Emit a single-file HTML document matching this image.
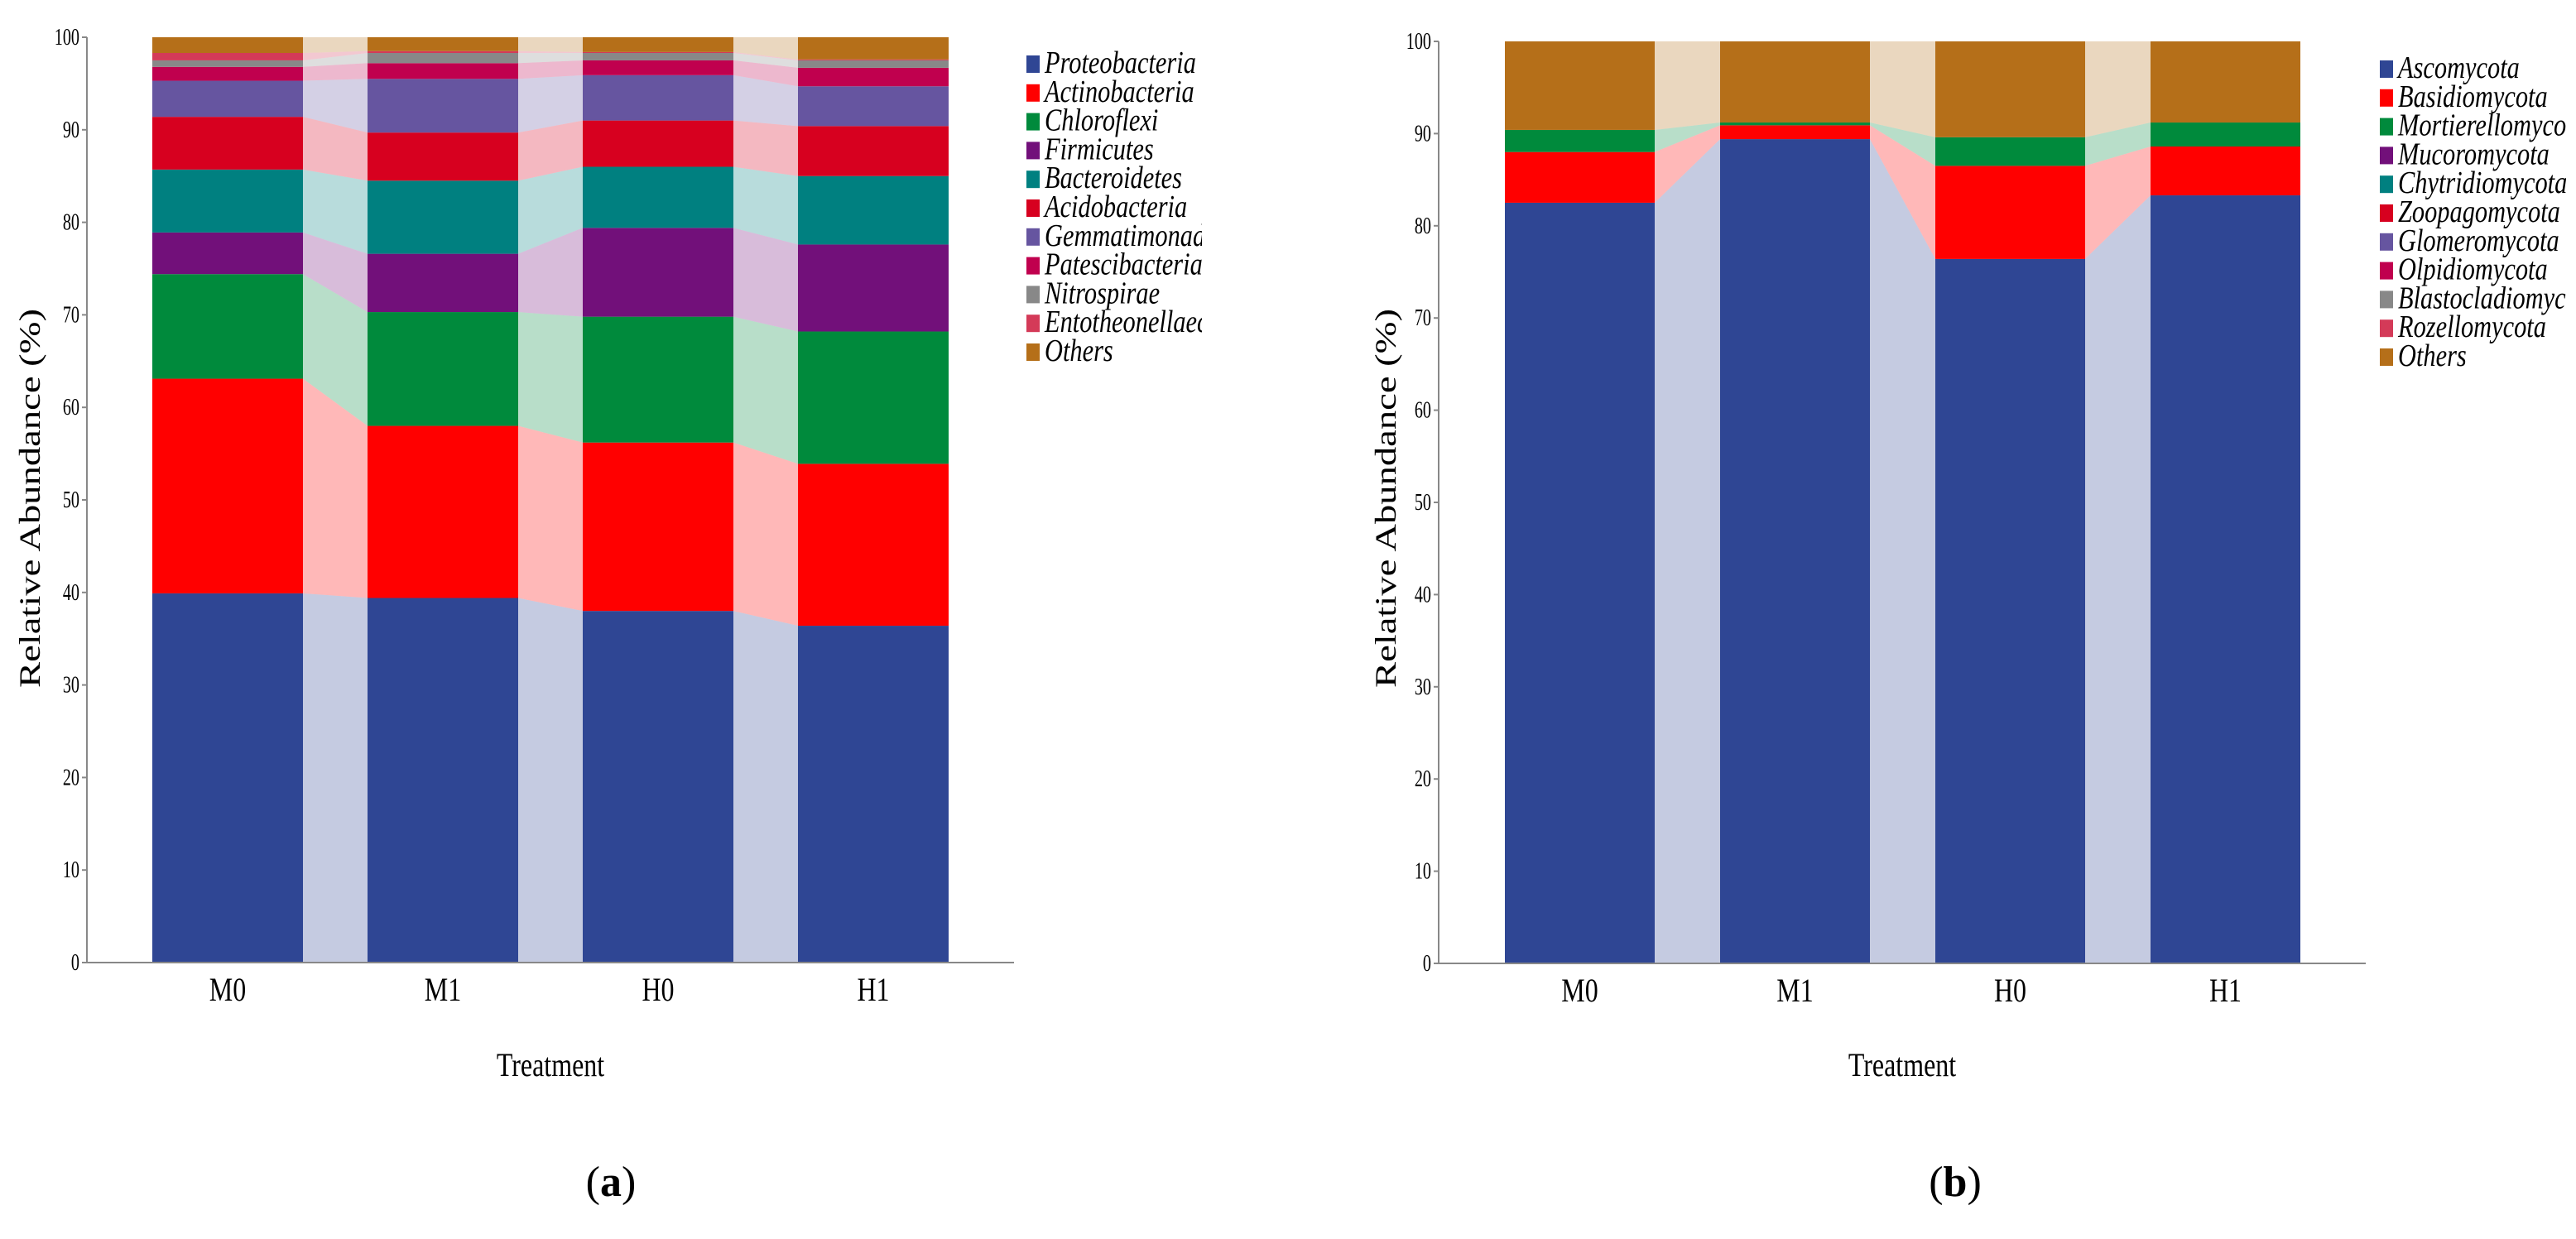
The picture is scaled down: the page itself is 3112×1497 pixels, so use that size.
<!DOCTYPE html>
<html><head><meta charset="utf-8"><style>
html,body{margin:0;padding:0;background:#fff;}
svg{display:block;font-family:"Liberation Serif",serif;}
</style></head><body>
<svg id="fig" width="3112" height="1497" viewBox="0 0 3112 1497"></svg>
<script>
const categories = ["M0","M1","H0","H1"];
const ticks = [0,10,20,30,40,50,60,70,80,90,100];
// Chart (a) bacteria
const bactNames = ["Proteobacteria","Actinobacteria","Chloroflexi","Firmicutes","Bacteroidetes","Acidobacteria","Gemmatimonad","Patescibacteria","Nitrospirae","Entotheonellaec","Others"];
const proteobacteria = [39.9,39.4,38.0,36.4];
const actinobacteria = [23.2,18.6,18.2,17.5];
const chloroflexi = [11.3,12.3,13.6,14.3];
const firmicutes = [4.5,6.3,9.6,9.4];
const bacteroidetes = [6.8,7.9,6.6,7.4];
const acidobacteria = [5.7,5.2,5.0,5.4];
const gemmatimonad = [3.9,5.8,4.9,4.3];
const patescibacteria = [1.5,1.7,1.6,2.0];
const nitrospirae = [0.7,1.1,0.8,0.8];
const entotheonellaec = [0.8,0.2,0.1,0.1];
const othersA = [1.7,1.5,1.6,2.4];
// Chart (b) fungi
const fungNames = ["Ascomycota","Basidiomycota","Mortierellomyco","Mucoromycota","Chytridiomycota","Zoopagomycota","Glomeromycota","Olpidiomycota","Blastocladiomyc","Rozellomycota","Others"];
const ascomycota = [82.5,89.4,76.4,83.3];
const basidiomycota = [5.5,1.5,10.1,5.3];
const mortierellomyco = [2.4,0.3,3.1,2.6];
const mucoromycota = [0,0,0,0];
const chytridiomycota = [0,0,0,0];
const zoopagomycota = [0,0,0,0];
const glomeromycota = [0,0,0,0];
const olpidiomycota = [0,0,0,0];
const blastocladiomyc = [0,0,0,0];
const rozellomycota = [0,0,0,0];
const othersB = [9.6,8.8,10.4,8.8];

const colors = ["#2f4694","#ff0000","#008a3c","#72107a","#008080","#d7001f","#6655a0","#c0004e","#888888","#d43a58","#b56f19"];
const NS="http://www.w3.org/2000/svg";
const svg=document.getElementById('fig');
function mk(tag,attrs,parent){const e=document.createElementNS(NS,tag);for(const k in attrs)e.setAttribute(k,attrs[k]);(parent||svg).appendChild(e);return e;}

function drawChart(cfg){
  const g=mk('g',{});
  
  
  const y=v=>cfg.y0-(v/100)*(cfg.y0-cfg.y100);
  const xL=i=>cfg.bar0+i*cfg.step;
  const xR=i=>xL(i)+cfg.bw;
  const cum=[];
  cfg.series.forEach((s,k)=>{cum.push(s.map((v,i)=>(k?cum[k-1][i]:0)+v));});
  cfg.series.forEach((s,k)=>{
    for(let i=0;i<categories.length-1;i++){
      const b0=k?cum[k-1][i]:0,b1=k?cum[k-1][i+1]:0,t0=cum[k][i],t1=cum[k][i+1];
      const p=mk('polygon',{points:`${xR(i)},${y(b0)} ${xR(i)},${y(t0)} ${xL(i+1)},${y(t1)} ${xL(i+1)},${y(b1)}`,fill:colors[k],'fill-opacity':0.28},g);
      
      
    }
  });
  cfg.series.forEach((s,k)=>{
    s.forEach((v,i)=>{
      const b=k?cum[k-1][i]:0;
      const r=mk('rect',{x:xL(i),y:y(cum[k][i]),width:cfg.bw,height:Math.max(0,y(b)-y(cum[k][i])),fill:colors[k]},g);
      
      
    });
  });
  const ax=mk('line',{x1:cfg.ax,y1:cfg.y100,x2:cfg.ax,y2:cfg.y0,stroke:'#888','stroke-width':2},g);
  
  
  const xa=mk('line',{x1:cfg.ax,y1:cfg.y0,x2:cfg.axEnd,y2:cfg.y0,stroke:'#888','stroke-width':2},g);
  
  
  ticks.forEach(t=>{
    mk('line',{x1:cfg.ax-6,y1:y(t),x2:cfg.ax,y2:y(t),stroke:'#888','stroke-width':2},g);
    const tg=mk('g',{transform:`translate(${cfg.ax-9},${y(t)+9}) scale(0.72,1)`},g);
    const tx=mk('text',{'text-anchor':'end','font-size':28,fill:'#000'},tg);
    tx.textContent=t;
    
    
  });
  categories.forEach((c,i)=>{
    const cg=mk('g',{transform:`translate(${xL(i)+cfg.bw/2},${cfg.y0+46}) scale(0.8,1)`},g);
    const ct=mk('text',{'text-anchor':'middle','font-size':40,fill:'#000'},cg);
    ct.textContent=c;
    
    
  });
  const tg=mk('g',{transform:`translate(${cfg.treatX},1300) scale(0.8,1)`},g);
  const tt=mk('text',{'text-anchor':'middle','font-size':40,fill:'#000'},tg);
  tt.textContent='Treatment';
  
  
  const yt=mk('text',{transform:`translate(${cfg.ytX},602) rotate(-90)`,'text-anchor':'middle','font-size':36,fill:'#000',textLength:458,lengthAdjust:'spacingAndGlyphs'},g);
  yt.textContent='Relative Abundance (%)';
  
  
  const clip=mk('clipPath',{id:'clip-'+cfg.name},g);
  mk('rect',{x:cfg.legX,y:0,width:cfg.legClip-cfg.legX,height:700},clip);
  cfg.names.forEach((n,k)=>{
    const ly=cfg.legY+k*34.8;
    const r=mk('rect',{x:cfg.legX,y:ly-10,width:16,height:21,fill:colors[k]},g);
    
    
    const lg=mk('g',{'clip-path':`url(#clip-${cfg.name})`},g);
    const lg2=mk('g',{transform:`translate(${cfg.legX+22},${ly+11}) scale(0.8,1)`},lg);
    const t=mk('text',{'font-size':38,'font-style':'italic',fill:'#000'},lg2);
    t.textContent=n;
    
    
  });
  const lab=mk('text',{x:cfg.labX,y:1445,'text-anchor':'middle','font-size':52,fill:'#000'},g);
  lab.innerHTML='(<tspan font-weight="bold">'+cfg.label+'</tspan>)';
  
  
}

drawChart({name:'chart-a',names:bactNames,
  series:[proteobacteria,actinobacteria,chloroflexi,firmicutes,bacteroidetes,acidobacteria,gemmatimonad,patescibacteria,nitrospirae,entotheonellaec,othersA],
  ax:105,axEnd:1225,y0:1163,y100:45,bar0:184,step:260,bw:182,
  treatX:665,ytX:48,legX:1240,legY:77,legClip:1452,labX:738,label:'a'});
drawChart({name:'chart-b',names:fungNames,
  series:[ascomycota,basidiomycota,mortierellomyco,mucoromycota,chytridiomycota,zoopagomycota,glomeromycota,olpidiomycota,blastocladiomyc,rozellomycota,othersB],
  ax:1738,axEnd:2858,y0:1164,y100:50,bar0:1818,step:260,bw:181,
  treatX:2298,ytX:1686,legX:2875,legY:83,legClip:3100,labX:2362,label:'b'});
</script>
</body></html>
